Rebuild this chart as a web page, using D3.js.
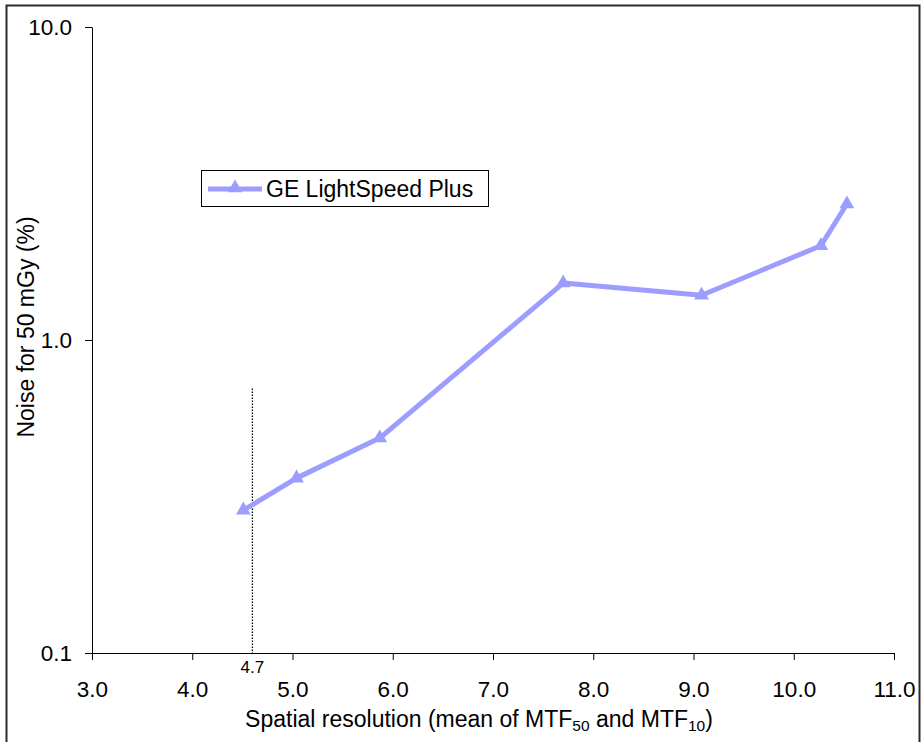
<!DOCTYPE html>
<html>
<head>
<meta charset="utf-8">
<script src="https://cdn.jsdelivr.net/npm/d3@7/dist/d3.min.js"></script>
<style>
  html, body { margin: 0; padding: 0; background: #fff; }
  svg { display: block; font-family: Arial, "Liberation Sans", sans-serif; }
</style>
</head>
<body>
<svg id="chart" width="921" height="742"></svg>
<script>
// ---- data ----
const seriesName = "GE LightSpeed Plus";
const resolution = [4.51, 5.04, 5.87, 7.70, 9.08, 10.27, 10.53];
const noise = [0.286, 0.362, 0.486, 1.52, 1.39, 2.00, 2.72];
const xTicks = [3, 4, 5, 6, 7, 8, 9, 10, 11];
const yTicks = [0.1, 1, 10];
const refLineX = 4.6;
const refLineTop = 0.7;
const refLabel = "4.7";
const xTitle = ["Spatial resolution (mean of MTF", "50", " and MTF", "10", ")"];
const yTitle = "Noise for 50 mGy (%)";

// ---- layout ----
const svg = d3.select("#chart");
const color = "#9d9dff";
const plotL = 92, plotR = 894, plotT = 27, plotB = 653;
const fs = 23;

const x = d3.scaleLinear().domain([3, 11]).range([plotL, plotR]);
const y = d3.scaleLog().domain([0.1, 10]).range([plotB, plotT]);

// outer frame
svg.append("rect").attr("x", 6.5).attr("y", 5.5).attr("width", 913).attr("height", 760)
  .attr("fill", "none").attr("stroke", "#2a2a2a").attr("stroke-width", 2);

// axes
const xAxis = d3.axisBottom(x).tickValues(xTicks).tickFormat(d3.format(".1f"))
  .tickSize(7).tickPadding(21).tickSizeOuter(0);
const gx = svg.append("g").attr("transform", `translate(0,${plotB})`).call(xAxis);
gx.select(".domain").attr("stroke", "#000").attr("stroke-width", 1);
gx.selectAll(".tick line").attr("stroke", "#000");
gx.selectAll("text").attr("font-size", 22.5).attr("fill", "#000")
  .attr("font-family", "Arial, 'Liberation Sans', sans-serif");

const yAxis = d3.axisLeft(y).tickValues(yTicks).tickFormat(d3.format(".1f"))
  .tickSize(7).tickPadding(13).tickSizeOuter(0);
const gy = svg.append("g").attr("transform", `translate(${plotL},0)`).call(yAxis);
gy.select(".domain").attr("stroke", "#000").attr("stroke-width", 1);
gy.selectAll(".tick line").attr("stroke", "#000");
gy.selectAll("text").attr("font-size", 22.5).attr("fill", "#000")
  .attr("font-family", "Arial, 'Liberation Sans', sans-serif");

// reference dotted line
svg.append("line")
  .attr("x1", x(refLineX)).attr("x2", x(refLineX))
  .attr("y1", y(refLineTop)).attr("y2", y(0.1))
  .attr("stroke", "#000").attr("stroke-width", 1.3).attr("stroke-dasharray", "1.5,1.5");
svg.append("text").attr("x", x(refLineX)).attr("y", 673)
  .attr("text-anchor", "middle").attr("font-size", 17).text(refLabel);

// series line
const pts = resolution.map((r, i) => [r, noise[i]]);
svg.append("path").datum(pts)
  .attr("fill", "none").attr("stroke", color).attr("stroke-width", 5)
  .attr("stroke-linejoin", "round")
  .attr("d", d3.line().x(d => x(d[0])).y(d => y(d[1])));

const tri = d3.symbol().type(d3.symbolTriangle).size(95);
svg.selectAll(".marker").data(pts).join("path")
  .attr("class", "marker")
  .attr("transform", d => `translate(${x(d[0])},${y(d[1])})`)
  .attr("d", tri).attr("fill", color);

// legend
const lg = svg.append("g");
lg.append("rect").attr("x", 201.5).attr("y", 170.5).attr("width", 287).attr("height", 36)
  .attr("fill", "#fff").attr("stroke", "#000").attr("stroke-width", 1);
lg.append("line").attr("x1", 208).attr("x2", 262).attr("y1", 189).attr("y2", 189)
  .attr("stroke", color).attr("stroke-width", 5);
lg.append("path").attr("transform", "translate(235,188)").attr("d", tri).attr("fill", color);
lg.append("text").attr("x", 266).attr("y", 197).attr("font-size", fs).text(seriesName);

// x title
const xt = svg.append("text").attr("x", 479).attr("y", 727)
  .attr("text-anchor", "middle").attr("font-size", fs);
xTitle.forEach((s, i) => {
  const sub = (i === 1 || i === 3);
  const t = xt.append("tspan").text(s);
  if (sub) t.attr("font-size", 15.5).attr("dy", 4);
  else if (i > 0) t.attr("dy", -4);
});

// y title
svg.append("text")
  .attr("transform", "translate(34,327) rotate(-90)")
  .attr("text-anchor", "middle").attr("font-size", fs).text(yTitle);
</script>
</body>
</html>
